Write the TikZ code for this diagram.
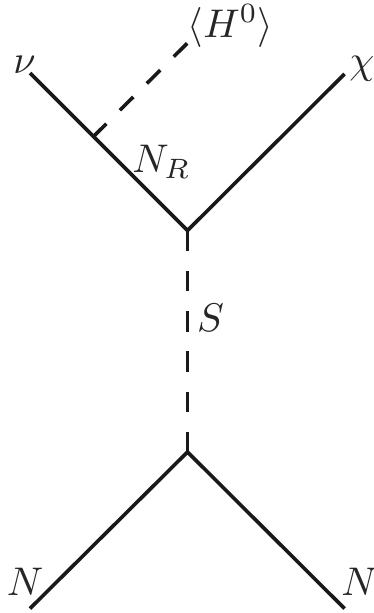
\documentclass[tikz,border=0pt]{standalone}
\usepackage{amsmath}
\usetikzlibrary{positioning,calc}
\tikzset{
  fermion/.style={line width=3.6pt,black!90},
  scalar/.style={line width=3.6pt,black!90,dash pattern=on 20.4pt off 19.9pt},
  vevline/.style={line width=3.6pt,black!90,dash pattern=on 18.8pt off 19.2pt},
  labeltext/.style={scale=4,inner sep=0pt,anchor=base,text=black!85}
}
\begin{document}
\begin{tikzpicture}[x=1pt,y=-1pt]
\useasboundingbox (0,0) rectangle (374,613);
\coordinate (nuend) at (30,73);
\coordinate (chiend) at (344.5,74);
\coordinate (vtop) at (187.5,230.5);
\coordinate (vbot) at (187.5,452);
\coordinate (nleft) at (30,608.5);
\coordinate (nright) at (344.5,608.5);
\coordinate (mix) at (93,137);
\coordinate (vevend) at (188,42.5);
\node[labeltext] (nu) at (24.5,73) {$\nu$};
\node[labeltext] (chi) at (362,73) {$\chi$};
\node[labeltext] (vev) at (230.5,37) {$\langle H^0\rangle$};
\node[labeltext] (nr) at (161.5,172) {$N_R$};
\node[labeltext] (s) at (210.5,331) {$S$};
\node[labeltext] (n1) at (25,595) {$N$};
\node[labeltext] (n2) at (359.5,595) {$N$};
\draw[fermion] (nuend) -- (vtop) -- (chiend);
\draw[fermion] (nleft) -- (vbot) -- (nright);
\draw[vevline] (mix) -- (vevend);
\draw[scalar] (vtop) -- (vbot);
\end{tikzpicture}
\end{document}
